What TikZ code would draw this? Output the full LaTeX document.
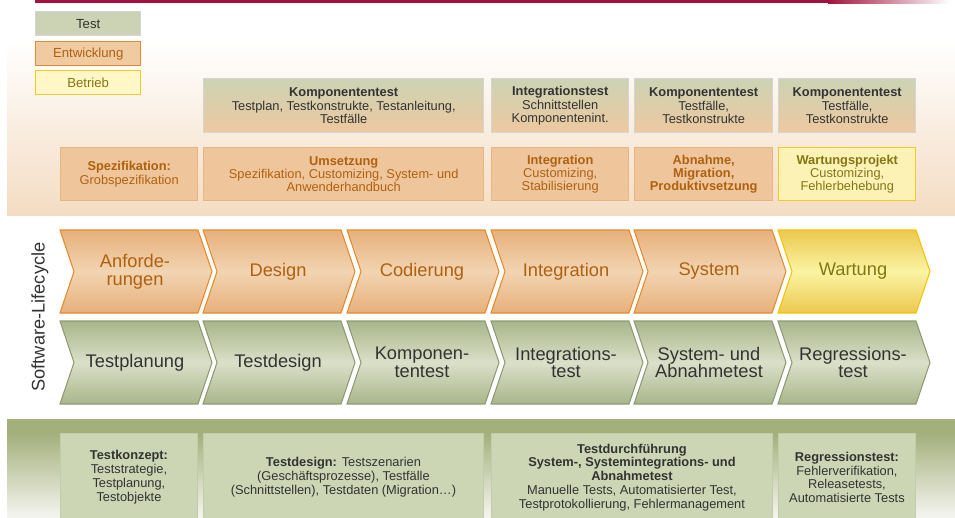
\documentclass[tikz,border=0pt]{standalone}
\usepackage{fontspec}
\setmainfont{Liberation Sans}
\usepackage{tikz}
\usetikzlibrary{positioning}

\definecolor{linered}{HTML}{A3123F}
\definecolor{testfill}{HTML}{CCD3B4}
\definecolor{devfill}{HTML}{F0CBA2}
\definecolor{devline}{HTML}{E58A2C}
\definecolor{devtext}{HTML}{B0600F}
\definecolor{opsfill}{HTML}{FFF8C6}
\definecolor{opsline}{HTML}{F3CB2A}
\definecolor{opstext}{HTML}{857612}
\definecolor{greytext}{HTML}{333333}
\definecolor{greyline}{HTML}{D4D4D4}
\definecolor{panelorange}{HTML}{F4DCC3}
\definecolor{panelgreen}{HTML}{A4B07C}
\definecolor{panelwhite}{HTML}{F5F5F0}
\definecolor{mixbottom}{HTML}{EEC8A0}
\definecolor{devboxline}{HTML}{E9B57E}
\definecolor{devboxfill}{HTML}{EFC69C}
\definecolor{opsboxfill}{HTML}{FDF2B6}
\definecolor{testboxline}{HTML}{C3CCA8}
\definecolor{testboxfill}{HTML}{CCD5B4}
\definecolor{chevdevdark}{HTML}{E7B07B}
\definecolor{chevdevlight}{HTML}{F1D4B1}
\definecolor{chevopsline}{HTML}{F5C400}
\definecolor{chevopsdark}{HTML}{ECC84F}
\definecolor{chevopslight}{HTML}{FAF4A3}
\definecolor{chevtestline}{HTML}{8F9A73}
\definecolor{chevtestdark}{HTML}{A8B68A}
\definecolor{chevtestlight}{HTML}{DBE0C9}

\tikzset{
	boxsize/.style 2 args={minimum width=#1*0.02cm, minimum height=#2*0.02cm},
	legbox/.style={draw, line width=0.8pt, inner sep=0pt, anchor=north west, font=\fontsize{7.5}{7.5}\selectfont},
	infobox/.style={draw, line width=0.8pt, inner sep=0pt, align=center, anchor=north west, font=\fontsize{7.3}{7.6}\selectfont},
	mixbox/.style={infobox, draw=greyline, top color=testfill, bottom color=mixbottom, text=greytext},
	devbox/.style={infobox, draw=devboxline, fill=devboxfill, text=devtext},
	opsbox/.style={infobox, draw=opsline, fill=opsboxfill, text=opstext},
	testbox/.style={infobox, draw=testboxline, line width=0.5pt, fill=testboxfill, text=greytext, font=\fontsize{7.3}{7.9}\selectfont},
	chevdev/.style={draw=devline, line width=0.6pt, top color=chevdevdark, bottom color=chevdevdark, middle color=chevdevlight},
	chevops/.style={draw=chevopsline, line width=0.6pt, top color=chevopsdark, bottom color=chevopsdark, middle color=chevopslight},
	chevtest/.style={draw=chevtestline, line width=0.6pt, top color=chevtestdark, bottom color=chevtestdark, middle color=chevtestlight},
	chevtext/.style={align=center, inner sep=0pt, font=\fontsize{10.4}{10}\selectfont},
}

\begin{document}
\begin{tikzpicture}[x=0.02cm, y=-0.02cm]
	\useasboundingbox (0,0) rectangle (955,517);

	\fill[linered] (35,0.5) rectangle (828,3.5);
	\shade[left color=linered, right color=white] (828,1) rectangle (950,4);

	\shade[top color=white, bottom color=panelorange] (7,40) rectangle (955,215);
	\fill[panelgreen] (7,419) rectangle (955,434);
	\shade[top color=panelgreen, bottom color=panelwhite] (7,433.5) rectangle (955,517);

	\node[legbox, boxsize={105}{24}, draw=greyline, fill=testfill, text=greytext] (legtest) at (35,11) {Test};
	\node[legbox, boxsize={105}{24}, draw=devline, fill=devfill, text=devtext] (legdev) at (35,41) {Entwicklung};
	\node[legbox, boxsize={105}{24}, draw=opsline, fill=opsfill, text=opstext] (legops) at (35,70) {Betrieb};

	\node[mixbox, boxsize={280}{54}] (ktest) at (203,78) {\textbf{Komponententest}\\Testplan, Testkonstrukte, Testanleitung,\\Testfälle};
	\node[mixbox, boxsize={137}{54}] (itest) at (491,78) {\textbf{Integrationstest}\\Schnittstellen\\Komponentenint.};
	\node[mixbox, boxsize={138}{54}] (ktestb) at (634,78) {\textbf{Komponententest}\\Testfälle,\\Testkonstrukte};
	\node[mixbox, boxsize={137}{54}] (ktestc) at (778,78) {\textbf{Komponententest}\\Testfälle,\\Testkonstrukte};

	\node[devbox, boxsize={137}{53}] (spez) at (60,147) {\textbf{Spezifikation:}\\Grobspezifikation};
	\node[devbox, boxsize={280}{53}] (umset) at (203,147) {\textbf{Umsetzung}\\Spezifikation, Customizing, System- und\\Anwenderhandbuch};
	\node[devbox, boxsize={137}{53}] (integ) at (491,147) {\textbf{Integration}\\Customizing,\\Stabilisierung};
	\node[devbox, boxsize={138}{53}] (abn) at (634,147) {\textbf{Abnahme,}\\\textbf{Migration,}\\\textbf{Produktivsetzung}};
	\node[opsbox, boxsize={137}{53}] (wprj) at (778,147) {\textbf{Wartungsprojekt}\\Customizing,\\Fehlerbehebung};

	\foreach \x in {60,203,347,491,634}
		\path[chevdev] (\x,230) -- ++(138,0) -- ++(14,41.5) -- ++(-14,41.5) -- ++(-138,0) -- ++(14,-41.5) -- cycle;
	\path[chevops] (778,230) -- ++(138,0) -- ++(14,41.5) -- ++(-14,41.5) -- ++(-138,0) -- ++(14,-41.5) -- cycle;
	\foreach \x in {60,203,347,491,634,778}
		\path[chevtest] (\x,321) -- ++(138,0) -- ++(14,41.5) -- ++(-14,41.5) -- ++(-138,0) -- ++(14,-41.5) -- cycle;

	\node[chevtext, text=devtext] (anf) at (135,271.5) {Anforde-\\rungen};
	\node[chevtext, text=devtext] (des) at (278,271.5) {Design};
	\node[chevtext, text=devtext] (cod) at (422,271.5) {Codierung};
	\node[chevtext, text=devtext] (int) at (566,271.5) {Integration};
	\node[chevtext, text=devtext] (sys) at (709,271.5) {System};
	\node[chevtext, text=opstext] (wart) at (853,271.5) {Wartung};

	\node[chevtext, text=greytext] (tplan) at (135,362.5) {Testplanung};
	\node[chevtext, text=greytext] (tdes) at (278,362.5) {Testdesign};
	\node[chevtext, text=greytext] (komp) at (422,362.5) {Komponen-\\tentest};
	\node[chevtext, text=greytext] (itst) at (566,362.5) {Integrations-\\test};
	\node[chevtext, text=greytext] (abnt) at (709,362.5) {System- und\\Abnahmetest};
	\node[chevtext, text=greytext] (regr) at (853,362.5) {Regressions-\\test};

	\node[chevtext, text=greytext, rotate=90] (slc) at (40,317) {Software-Lifecycle};

	\node[testbox, boxsize={137}{88}] (tkon) at (60,433) {\textbf{Testkonzept:}\\Teststrategie,\\Testplanung,\\Testobjekte};
	\node[testbox, boxsize={280}{88}] (tdsg) at (203,433) {\textbf{Testdesign:} Testszenarien\\(Geschäftsprozesse), Testfälle\\(Schnittstellen), Testdaten (Migration…)};
	\node[testbox, boxsize={281}{88}] (tdurch) at (491,433) {\textbf{Testdurchführung}\\\textbf{System-, Systemintegrations- und}\\\textbf{Abnahmetest}\\Manuelle Tests, Automatisierter Test,\\Testprotokollierung, Fehlermanagement};
	\node[testbox, boxsize={137}{88}] (rtest) at (778,433) {\textbf{Regressionstest:}\\Fehlerverifikation,\\Releasetests,\\Automatisierte Tests};
\end{tikzpicture}
\end{document}
